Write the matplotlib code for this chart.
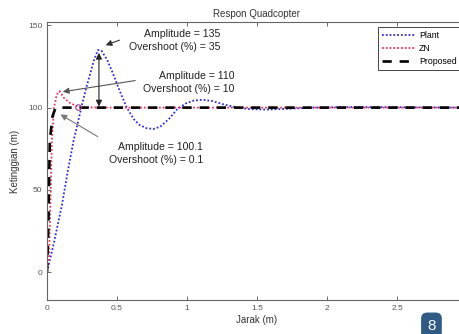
import matplotlib
matplotlib.use("Agg")
import matplotlib.pyplot as plt

# values
plant_t = [0, 0.05, 0.107, 0.15, 0.19, 0.21, 0.245, 0.28, 0.31, 0.34, 0.364, 0.39,
           0.43, 0.47, 0.52, 0.57, 0.62, 0.66, 0.71, 0.76, 0.81, 0.87, 0.93, 0.99,
           1.05, 1.11, 1.18, 1.26, 1.36, 1.46, 1.58, 1.72, 1.9, 2.2, 2.6, 3.0]
plant_y = [0, 18, 41, 62, 80, 87, 100, 112, 121, 130, 135, 134.5,
           129, 121, 110, 100, 93, 89.5, 87.5, 87, 88.5, 93, 99, 102.5,
           104.3, 104.8, 104, 102, 100, 99, 98.8, 99.3, 100, 100.4, 100.2, 100]

zn_t = [0, 0.015, 0.035, 0.05, 0.07, 0.09, 0.12, 0.16, 0.22, 0.3, 0.5, 3.0]
zn_y = [0, 10, 80, 100, 108, 110, 106, 103, 100.6, 100.1, 100, 100]

prop_t = [0, 0.01, 0.02, 0.04, 0.06, 0.075, 0.1, 3.0]
prop_y = [0, 30, 80, 95, 99.5, 100.1, 100, 100]

marker_t = [0.22]
marker_y = [100.6]

labels = ["Plant", "ZN", "Proposed"]
xticks = [0, 0.5, 1, 1.5, 2, 2.5]
xtick_labels = ["0", "0.5", "1", "1.5", "2", "2.5"]
yticks = [0, 50, 100, 150]

plt.rcParams["font.family"] = ["Liberation Sans", "DejaVu Sans"]

fig = plt.figure(figsize=(4.59, 3.34), dpi=100)
ax = fig.add_axes([0.1024, 0.1018, 0.915, 0.832])

ax.plot(plant_t, plant_y, color="#2f2fd8", linewidth=1.3, dashes=(1, 1.1), label=labels[0])
ax.plot(zn_t, zn_y, color="#e8365d", linewidth=1.3, dashes=(1, 1.1), label=labels[1])
ax.plot(prop_t, prop_y, "--", color="black", linewidth=1.9, dashes=(3.5, 3), label=labels[2])
ax.plot(marker_t, marker_y, "o", mfc="none", mec="#a040a0", ms=4, mew=0.8)

ax.set_xlim(0, 3)
ax.set_ylim(-17, 152)
ax.set_xticks(xticks)
ax.set_xticklabels(xtick_labels)
ax.set_yticks(yticks)
ax.tick_params(direction="in", length=3, width=0.6, labelsize=6, colors="#555555",
               top=True, right=True)
for s in ax.spines.values():
    s.set_color("#666666")
    s.set_linewidth(0.8)

ax.set_title("Respon Quadcopter", fontsize=7, color="#333333", pad=4)
ax.set_xlabel("Jarak (m)", fontsize=7, color="#333333", labelpad=2)
ax.set_ylabel("Ketinggian (m)", fontsize=7, color="#333333", labelpad=6)

leg = ax.legend(loc="upper left", bbox_to_anchor=(0.778, 0.997), fontsize=6.3,
                handlelength=3.9, handletextpad=0.3, borderpad=0.45,
                labelspacing=0.45, fancybox=False, framealpha=1, edgecolor="#444444")
leg.get_frame().set_linewidth(0.7)

txt_kw = dict(fontsize=7.6, color="#222222", ha="right", va="center", linespacing=1.35)
ax.text(1.236, 141, "Amplitude = 135\nOvershoot (%) = 35", **txt_kw)
ax.text(1.336, 115.2, "Amplitude = 110\nOvershoot (%) = 10", **txt_kw)
ax.text(1.114, 72.3, "Amplitude = 100.1\nOvershoot (%) = 0.1", **txt_kw)

arrow_kw = dict(arrowstyle="-|>", color="#333333", lw=0.8, mutation_scale=9)
ax.annotate("", xy=(0.40, 137.4), xytext=(0.536, 141.6), arrowprops=arrow_kw)
ax.annotate("", xy=(0.093, 109.4), xytext=(0.65, 116.7), arrowprops=dict(arrow_kw, color="#555555"))
ax.annotate("", xy=(0.079, 96.7), xytext=(0.379, 81.5), arrowprops=dict(arrow_kw, color="#777777"))
ax.annotate("", xy=(0.371, 135), xytext=(0.371, 99),
            arrowprops=dict(arrowstyle="<|-|>", color="#222222", lw=0.8, mutation_scale=9))

fig.text(0.94, 0.025, "8", fontsize=11, color="white", ha="center", va="center",
         bbox=dict(boxstyle="round,pad=0.4", fc="#2f5b84", ec="none"))

fig.savefig("out.png", dpi=100)
